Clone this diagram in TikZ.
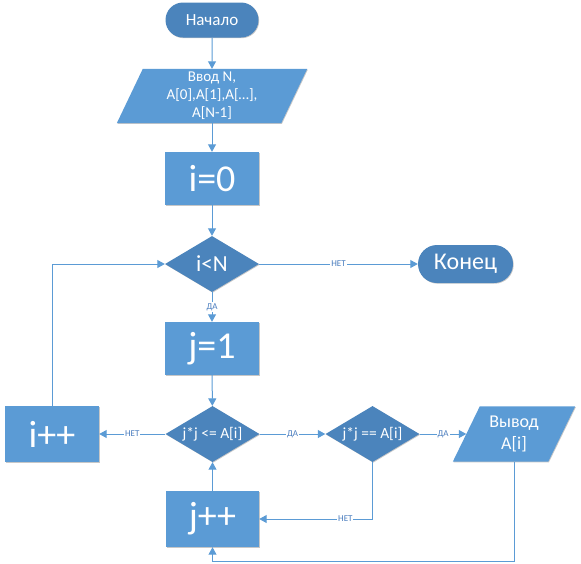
\documentclass[tikz,border=0pt]{standalone}
\usepackage{fontspec}
\setmainfont{Carlito}
\usetikzlibrary{arrows.meta,shapes.geometric,shapes.misc,backgrounds,calc,shadows}
\definecolor{procblue}{HTML}{5B9BD5}
\definecolor{darkblue}{HTML}{4B84BC}
\definecolor{linkblue}{HTML}{5B9BD5}
\definecolor{labelblue}{HTML}{4A7DBF}
\newcommand{\fsize}[2]{\fontsize{#1}{#2}\selectfont}

\begin{document}
\begin{tikzpicture}[x=1pt,y=-1pt,
  softshadow/.style={drop shadow={shadow xshift=0.7pt,shadow yshift=-0.7pt,opacity=0.22,fill=black}},
  proc/.style={rectangle, fill=procblue, text=white, minimum width=94pt, minimum height=54pt,
               inner sep=0pt, font=\fsize{38}{42}, softshadow},
  term/.style={rounded rectangle, fill=darkblue, text=white, inner sep=0pt, softshadow},
  cond/.style={diamond, aspect=1.7, fill=darkblue, text=white, inner sep=0pt,
               minimum width=94pt, minimum height=56pt, softshadow},
  io/.style={rectangle, text=white, inner sep=0pt, align=center},
  link/.style={draw=linkblue, line width=1pt, -{Triangle[length=7.5pt,width=8pt]}},
  lbl/.style={fill=white, text=labelblue, font=\fsize{9}{10}, inner sep=1pt}
]
\useasboundingbox (0,0) rectangle (581,563);

% terminals
\node[term, minimum width=93pt, minimum height=35pt, font=\fsize{17}{20}] (start) at (212,20) {Начало};
\node[term, minimum width=95pt, minimum height=38pt, font=\fsize{24}{28}] (end) at (465.5,264) {Конец};

% input / output blocks (text frames; slanted bodies drawn behind)
\node[io, minimum width=164pt, minimum height=54pt, font=\fsize{15}{18}] (inp) at (212,96)
  {Ввод N,\\A[0],A[1],A[…],\\A[N-1]};
\node[io, minimum width=95pt, minimum height=55pt, font=\fsize{18}{22}] (out) at (514,434)
  {Вывод\\A[i]};

% process blocks
\node[proc, minimum height=53pt] (i0) at (212,178.5) {i=0};
\node[proc, minimum height=53pt] (j1) at (212,348.5) {j=1};
\node[proc, minimum height=56pt] (ipp) at (52,434) {i++};
\node[proc, minimum width=93pt, minimum height=56pt] (jpp) at (212.5,519) {j++};

% decisions
\node[cond, font=\fsize{23}{26}] (cN) at (212,264) {i<N};
\node[cond, font=\fsize{15.5}{18}] (d1) at (212.5,434) {j*j <= A[i]};
\node[cond, font=\fsize{15.5}{18}] (d2) at (372.5,434) {j*j == A[i]};

\coordinate (rail) at (0,561);

% slanted input/output bodies
\begin{scope}[on background layer]
  \fill[procblue, softshadow]
    ($(inp.south west)+(-13,0)$) -- ($(inp.south east)+(-13,0)$) --
    ($(inp.north east)+(13,0)$) -- ($(inp.north west)+(13,0)$) -- cycle;
  \fill[procblue, softshadow]
    ($(out.south west)+(-13.5,0)$) -- ($(out.south east)+(-13.5,0)$) --
    ($(out.north east)+(13.5,0)$) -- ($(out.north west)+(13.5,0)$) -- cycle;
\end{scope}

% connectors
\draw[link] (start) -- (inp);
\draw[link] (inp) -- (i0);
\draw[link] (i0) -- (cN);
\draw[link] (cN) -- node[lbl]{НЕТ} (end);
\draw[link] (cN) -- node[lbl]{ДА} (j1);
\draw[link] (j1) -- (d1);
\draw[link] (d1) -- node[lbl]{НЕТ} (ipp);
\draw[link] (ipp.north) |- (cN.west);
\draw[link] (d1) -- node[lbl]{ДА} (d2);
\draw[link] (d2) -- node[lbl]{ДА} (out.west);
\draw[link] (d2.south) |- node[lbl,pos=0.62]{НЕТ} (jpp.east);
\draw[link] (out.south) -- (out.south |- rail) -| (jpp.south);
\draw[link] (jpp) -- (d1);
\end{tikzpicture}
\end{document}
